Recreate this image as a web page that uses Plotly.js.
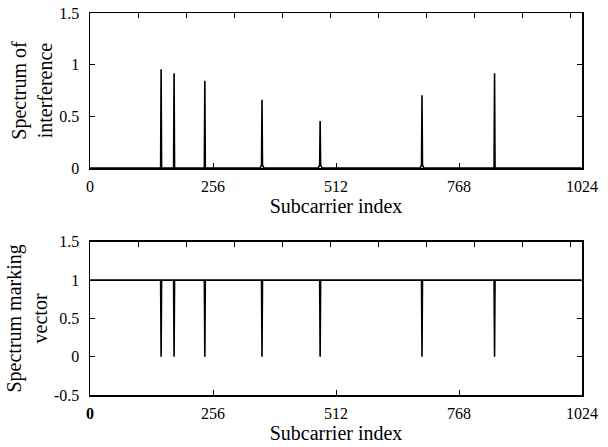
<!DOCTYPE html>
<html>
<head>
<meta charset="utf-8">
<script src="https://cdn.plot.ly/plotly-3.0.1.min.js"></script>
<style>html,body{margin:0;padding:0;background:#fff;}#chart{width:608px;height:447px;}</style>
</head>
<body>
<div id="chart"></div>
<script>
// ---- data ----
const nSubcarriers = 1024;
const spikeIdx   = [148, 175, 239, 358, 479, 691, 842];          // interfered subcarriers
const interfAmp  = [0.957, 0.918, 0.844, 0.66, 0.456, 0.705, 0.918]; // spectrum of interference
const leakAmp    = [0.0, 0.0, 0.0, 0.03, 0.03, 0.03, 0.0];        // small leakage at spike bases
const markOn     = 1;  // marking vector value on clean subcarriers
const markOff    = 0;  // marking vector value on interfered subcarriers
const xTickVals  = [0, 256, 512, 768, 1024];
const xTickText  = ['0', '256', '512', '768', '1024'];
const xTickText2 = ['<b>0</b>', '256', '512', '768', '1024'];
const yTop = [0, 0.5, 1, 1.5];
const yBot = [-0.5, 0, 0.5, 1, 1.5];

// build series from the read values
const sx = [0], sy = [0];
const mx = [0], my = [markOn];
spikeIdx.forEach((k, i) => {
  sx.push(k - 4, k - 1, k, k + 1, k + 4);
  sy.push(0, leakAmp[i], interfAmp[i], leakAmp[i], 0);
  mx.push(k - 1, k, k + 1);
  my.push(markOn, markOff, markOn);
});
sx.push(nSubcarriers - 1); sy.push(0);
mx.push(nSubcarriers - 1); my.push(markOn);

const font = {family: '"Liberation Serif", "Times New Roman", serif', size: 16, color: '#000'};
const titleFont = {family: '"Liberation Serif", "Times New Roman", serif', size: 20, color: '#000'};

const traces = [
  {x: sx, y: sy, xaxis: 'x', yaxis: 'y', mode: 'lines', line: {color: '#000', width: 1.6}, hoverinfo: 'skip', showlegend: false},
  {x: mx, y: my, xaxis: 'x2', yaxis: 'y2', mode: 'lines', line: {color: '#000', width: 1.6}, hoverinfo: 'skip', showlegend: false},
  {x: [null], y: [null], xaxis: 'x3', yaxis: 'y', mode: 'lines', hoverinfo: 'skip', showlegend: false},
  {x: [null], y: [null], xaxis: 'x4', yaxis: 'y2', mode: 'lines', hoverinfo: 'skip', showlegend: false}
];

const xBase = {
  range: [0, 1024], tickmode: 'array', tickvals: xTickVals, ticktext: xTickText,
  ticks: 'inside', ticklen: 5, tickwidth: 1, tickcolor: '#000',
  showline: true, linecolor: '#000', linewidth: 1.5, mirror: true,
  showgrid: false, zeroline: false, tickfont: font, ticklabelstandoff: 3,
  title: {text: 'Subcarrier index', font: titleFont, standoff: 2}
};
const xTopTicks = {
  range: [0, 1024], side: 'top', tickmode: 'linear', tick0: 0, dtick: 100,
  ticks: 'inside', ticklen: 5, tickwidth: 1, tickcolor: '#000',
  showticklabels: false, showline: false, showgrid: false, zeroline: false
};
const yBase = {
  ticks: 'inside', ticklen: 5, tickwidth: 1, tickcolor: '#000',
  showline: true, linecolor: '#000', linewidth: 1.5, mirror: 'ticks',
  showgrid: false, zeroline: false, tickfont: font, ticklabelstandoff: 6
};

const layout = {
  width: 608, height: 447,
  margin: {l: 90, r: 26, t: 13, b: 52},
  paper_bgcolor: '#fff', plot_bgcolor: '#fff',
  font: font,
  showlegend: false,
  xaxis: Object.assign({}, xBase, {domain: [0, 1], anchor: 'y'}),
  xaxis2: Object.assign({}, xBase, {domain: [0, 1], anchor: 'y2', ticktext: xTickText2}),
  xaxis3: Object.assign({}, xTopTicks, {overlaying: 'x', anchor: 'y'}),
  xaxis4: Object.assign({}, xTopTicks, {overlaying: 'x2', anchor: 'y2'}),
  yaxis: Object.assign({}, yBase, {domain: [0.594, 1], anchor: 'x', range: [0, 1.5],
    tickmode: 'array', tickvals: yTop, ticktext: ['0', '0.5', '1', '1.5'],
    title: {text: 'Spectrum of<br>interference', font: titleFont, standoff: 1}}),
  yaxis2: Object.assign({}, yBase, {domain: [0, 0.401], anchor: 'x2', range: [-0.5, 1.5],
    tickmode: 'array', tickvals: yBot, ticktext: ['-0.5', '0', '0.5', '1', '1.5'],
    title: {text: 'Spectrum marking<br>vector', font: titleFont, standoff: 1}})
};

Plotly.newPlot('chart', traces, layout, {staticPlot: true, displayModeBar: false});
</script>
</body>
</html>
